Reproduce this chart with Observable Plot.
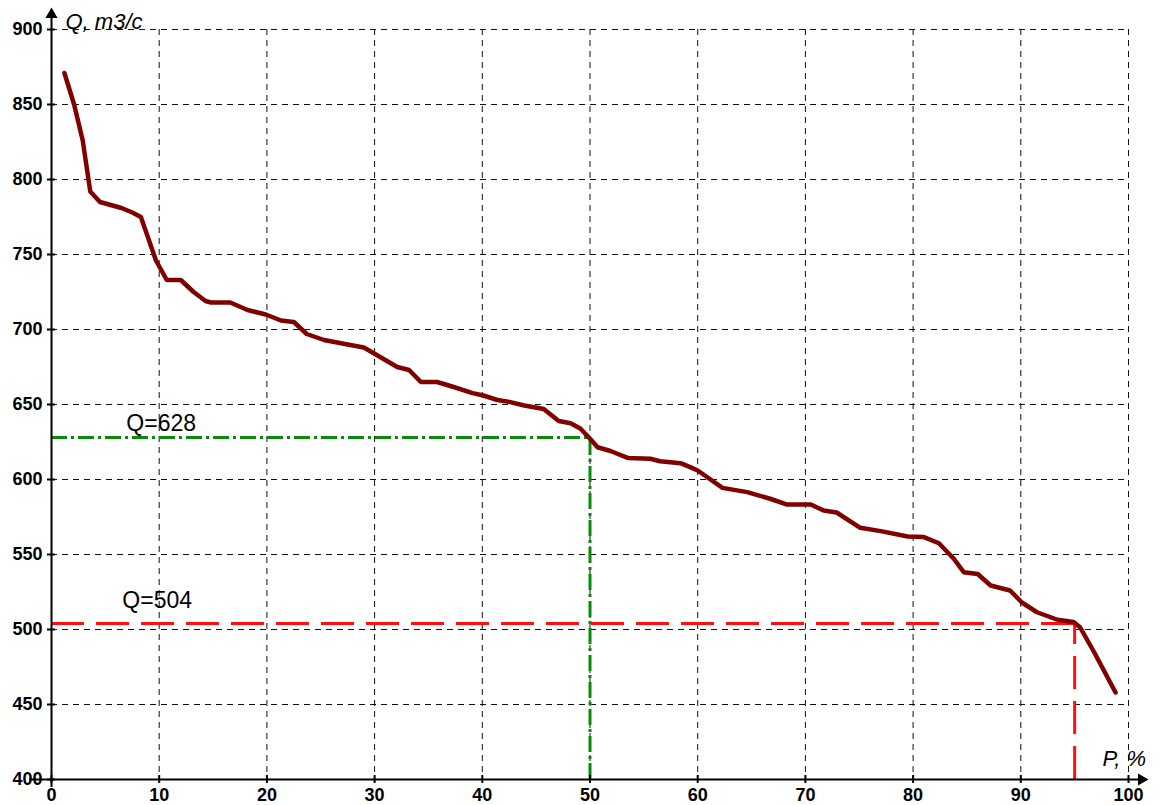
<!DOCTYPE html>
<html>
<head>
<meta charset="utf-8">
<script src="https://cdn.jsdelivr.net/npm/d3@7"></script>
<script src="https://cdn.jsdelivr.net/npm/@observablehq/plot@0.6"></script>
<style>
  html, body { margin: 0; padding: 0; background: #fff; }
  #chart { width: 1163px; height: 805px; }
</style>
</head>
<body>
<div id="chart"></div>
<script>
// Duration curve: probability P (%) vs discharge Q (m3/s)
const P = [1.2, 2.1, 2.9, 3.6, 4.5, 5.5, 6.5, 7.5, 8.3, 9.7, 10.7, 12.0, 13.2, 14.3, 14.8, 16.6, 18.2, 19.9, 21.3, 22.5, 23.7, 25.3, 27.5, 29.0, 30.2, 32.1, 33.2, 34.3, 35.8, 37.2, 39.1, 40.1, 41.4, 42.6, 43.9, 45.7, 47.1, 48.2, 49.1, 49.9, 50.7, 51.9, 53.5, 55.6, 56.5, 58.4, 59.3, 60.0, 62.3, 64.6, 66.8, 68.3, 70.5, 71.7, 72.9, 75.1, 77.0, 79.5, 81.0, 82.4, 83.8, 84.7, 86.0, 87.2, 89.0, 90.1, 91.5, 93.4, 94.9, 95.5, 96.8, 98.8];
const Q = [871, 850, 826, 792, 785, 783, 781, 778, 775, 746, 733, 733, 725, 719, 718, 718, 713, 710, 706, 705, 697, 693, 690, 688, 683, 675, 673, 665, 665, 662, 657.6, 656, 653, 651.6, 649.3, 647, 639, 637.5, 634, 628, 621.5, 619, 614.4, 613.8, 612.2, 610.9, 608.2, 606, 594.4, 591.6, 587, 583.3, 583.3, 579.3, 578, 567.8, 565.6, 562, 561.6, 557.5, 547, 538.2, 537, 529.3, 526, 518, 511.5, 506.5, 505, 501.5, 485, 458];

const xTicks = [0, 10, 20, 30, 40, 50, 60, 70, 80, 90, 100];
const yTicks = [400, 450, 500, 550, 600, 650, 700, 750, 800, 850, 900];

// Reference levels (P %, Q, label)
const refP = [50, 95];
const refQ = [628, 504];
const refLabels = ["Q=628", "Q=504"];
const refLabelP = [10, 10];

const xTitle = "P, %";
const yTitle = "Q, m3/c";

const curve = P.map((p, i) => ({p, q: Q[i]}));
const refs = refP.map((p, i) => ({p, q: refQ[i], label: refLabels[i], lp: refLabelP[i]}));
const xMin = xTicks[0], xMax = xTicks[xTicks.length - 1];
const yMin = yTicks[0], yMax = yTicks[yTicks.length - 1];

const gridStyle = {stroke: "#111", strokeWidth: 1, strokeDasharray: "6,5"};

const chart = Plot.plot({
  width: 1163,
  height: 805,
  marginLeft: 51,
  marginRight: 35,
  marginTop: 29,
  marginBottom: 26,
  style: {fontFamily: "'Liberation Sans', Arial, sans-serif", fontSize: "18px", fontWeight: "bold", color: "#000", background: "#fff", overflow: "visible"},
  x: {domain: [xMin, xMax], ticks: xTicks, tickSize: 0, tickPadding: 9, tickFormat: d => String(d), label: null},
  y: {domain: [yMin, yMax], ticks: yTicks, tickSize: 0, tickPadding: 9, tickFormat: d => String(d), label: null},
  marks: [
    // grid
    Plot.ruleY(yTicks.filter(d => d > yMin), gridStyle),
    Plot.ruleX(xTicks.filter(d => d > xMin), gridStyle),
    // reference lines: 50% (green dash-dot)
    Plot.ruleY(refs.slice(0, 1), {y: "q", x1: xMin, x2: "p", stroke: "#0a8a0a", strokeWidth: 3, strokeDasharray: "16,4,3,4"}),
    Plot.ruleX(refs.slice(0, 1), {x: "p", y1: yMin, y2: "q", stroke: "#0a8a0a", strokeWidth: 3, strokeDasharray: "16,4,3,4"}),
    // 95% (red dashed)
    Plot.ruleY(refs.slice(1, 2), {y: "q", x1: xMin, x2: "p", stroke: "#ff1010", strokeWidth: 3, strokeDasharray: "33,12"}),
    Plot.ruleX(refs.slice(1, 2), {x: "p", y1: yMin, y2: "q", stroke: "#ff1010", strokeWidth: 3, strokeDasharray: "33,12"}),
    // labels of reference levels
    Plot.text(refs.slice(0, 1), {x: "lp", y: "q", text: "label", dx: 2, dy: -14, fontSize: 23, fontWeight: "normal", fill: "#000"}),
    Plot.text(refs.slice(1, 2), {x: "lp", y: "q", text: "label", dx: -2, dy: -23, fontSize: 23, fontWeight: "normal", fill: "#000"}),
    // duration curve
    Plot.line(curve, {x: "p", y: "q", stroke: "#800000", strokeWidth: 4.5, strokeLinejoin: "round", strokeLinecap: "round"}),
    // axes lines with arrows
    Plot.ruleY([yMin], {stroke: "#000", strokeWidth: 2, insetRight: -14, insetLeft: -22}),
    Plot.ruleX([xMin], {stroke: "#000", strokeWidth: 2, insetTop: -16, insetBottom: -8}),
    Plot.dot([xMax], {x: d => d, y: yMin, dx: 13, symbol: "triangle", r: 4.5, rotate: 90, fill: "#000", stroke: "none"}),
    Plot.dot([yMax], {x: xMin, y: d => d, dy: -15, symbol: "triangle", r: 4.5, fill: "#000", stroke: "none"}),
    // tick crosses
    Plot.ruleY(yTicks, {y: d => d, x1: xMin, x2: xMin, insetLeft: -4, insetRight: -4, stroke: "#000", strokeWidth: 2}),
    Plot.ruleX(xTicks, {x: d => d, y1: yMin, y2: yMin, insetTop: -4, insetBottom: -4, stroke: "#000", strokeWidth: 2}),
    // axis titles
    Plot.text([yTitle], {x: xMin, y: yMax, text: d => d, textAnchor: "start", dx: 14, dy: -8, fontSize: 22, fontStyle: "italic", fontWeight: "normal", fill: "#000"}),
    Plot.text([xTitle], {x: xMax, y: yMin, text: d => d, textAnchor: "start", dx: -26, dy: -21, fontSize: 22, fontStyle: "italic", fontWeight: "normal", fill: "#000"})
  ]
});
document.getElementById("chart").appendChild(chart);
</script>
</body>
</html>
